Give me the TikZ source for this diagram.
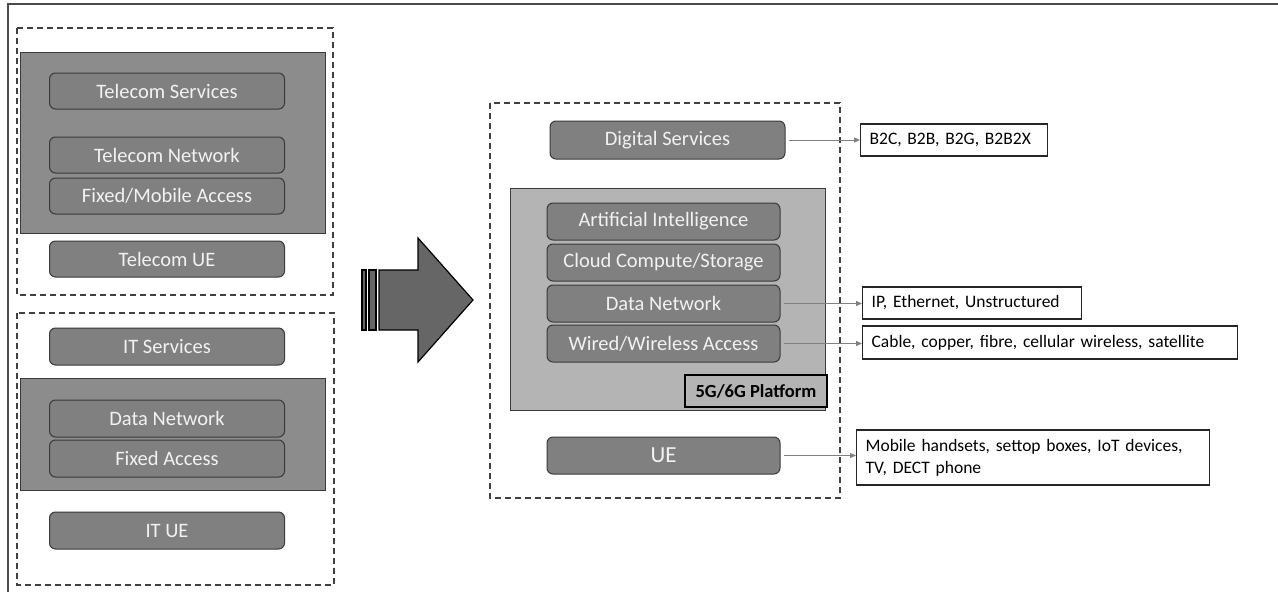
\documentclass[tikz,border=0pt]{standalone}
\usepackage{fontspec}
\setmainfont{Carlito}
\usetikzlibrary{arrows.meta}
\definecolor{outerdark}{HTML}{8C8C8C}
\definecolor{boxgray}{HTML}{808080}
\definecolor{platgray}{HTML}{B4B4B4}
\definecolor{arrowgray}{HTML}{666666}
\definecolor{conngray}{HTML}{808080}
\definecolor{edgegray}{HTML}{3A3A3A}
\tikzset{
  rbox/.style={draw=edgegray, line width=1pt, fill=boxgray, rounded corners=6pt,
    text=white!95!black, minimum width=235pt, minimum height=36pt, inner sep=0pt,
    font=\fontsize{20.5}{24}\selectfont},
  dbox/.style={draw=black!75, line width=1.2pt, dash pattern=on 6pt off 4pt},
  darkbg/.style={draw=edgegray, line width=1pt, fill=outerdark},
  platbg/.style={draw=edgegray, line width=1pt, fill=platgray},
  lbl/.style={draw=black!85, line width=1.2pt, fill=white, anchor=west, align=left,
    inner xsep=9pt, inner ysep=0pt, minimum height=32pt,
    font=\fontsize{17.5}{22}\selectfont},
  conn/.style={draw=conngray, line width=1pt, -{Triangle[length=6pt,width=5pt]}, shorten <=3pt},
}
\begin{document}
\begin{tikzpicture}[x=1pt,y=-1pt]
\useasboundingbox (0,0) rectangle (1278,592);
% page frame lines
\draw[black!70, line width=1.5pt] (8,592) -- (8,4) -- (1278,4);
% left: telecom
\draw[dbox] (17,28) rectangle (333,295);
\draw[darkbg] (20,52) rectangle (325,233);
\node[rbox] (ts) at (167,91) {Telecom Services};
\node[rbox] (tn) at (167,155) {Telecom Network};
\node[rbox] (fma) at (167,196) {Fixed/Mobile Access};
\node[rbox] (tue) at (167,259) {Telecom UE};
% left: IT
\draw[dbox] (17,313) rectangle (334,585);
\draw[darkbg] (20,378) rectangle (325,490);
\node[rbox, minimum height=37pt] (its) at (167,346.5) {IT Services};
\node[rbox, minimum height=37pt] (dn1) at (167,418.5) {Data Network};
\node[rbox, minimum height=37pt] (fa) at (167,458.5) {Fixed Access};
\node[rbox, minimum height=37pt] (itue) at (167,530.5) {IT UE};
% big arrow
\draw[black, line width=1.2pt, fill=arrowgray]
  (379,270) -- (418,270) -- (418,238) -- (473,300) -- (418,362) -- (418,330) -- (379,330) -- cycle;
\draw[black, line width=1.2pt, fill=arrowgray] (362,270) rectangle (366,330);
\draw[black, line width=1.2pt, fill=arrowgray] (369,270) rectangle (376,330);
% right
\draw[dbox] (490,103) rectangle (840,498);
\node[rbox, minimum height=38pt] (ds) at (667.5,140) {Digital Services};
\draw[platbg] (510,188) rectangle (825,410);
\node[rbox, minimum width=233pt, minimum height=37pt] (ai) at (663.5,221.5) {Artificial Intelligence};
\node[rbox, minimum width=233pt, minimum height=37pt] (cc) at (663.5,262.5) {Cloud Compute/Storage};
\node[rbox, minimum width=233pt, minimum height=37pt] (dn2) at (663.5,303.5) {Data Network};
\node[rbox, minimum width=233pt, minimum height=37pt] (wa) at (663.5,343.5) {Wired/Wireless Access};
\node[draw=black, line width=1.2pt, fill=platgray, minimum width=142pt, minimum height=32pt, inner sep=0pt,
  font=\fontsize{18.5}{22}\selectfont\bfseries] (plat) at (756,391) {5G/6G Platform};
\node[rbox, minimum width=233pt, minimum height=37pt, font=\fontsize{23}{26}\selectfont] (ue) at (663.5,455.5) {UE};
% right labels
\node[lbl, text width=169pt] (b2c) at (860,140) {B2C, B2B, B2G, B2B2X};
\node[lbl, text width=201pt] (ip) at (862,303) {IP, Ethernet, Unstructured};
\node[lbl, text width=357pt, minimum height=33pt] (cab) at (862,342.5) {Cable, copper, fibre, cellular wireless, satellite};
\node[lbl, text width=335pt, minimum height=55pt] (mob) at (856,457.5) {Mobile handsets, settop boxes, IoT devices,\\TV, DECT phone};
% connectors
\draw[conn] (ds.east) -- (b2c.west);
\draw[conn] (dn2.east) -- (dn2.east -| ip.west);
\draw[conn] (wa.east) -- (wa.east -| cab.west);
\draw[conn] (ue.east) -- (ue.east -| mob.west);
\end{tikzpicture}
\end{document}
